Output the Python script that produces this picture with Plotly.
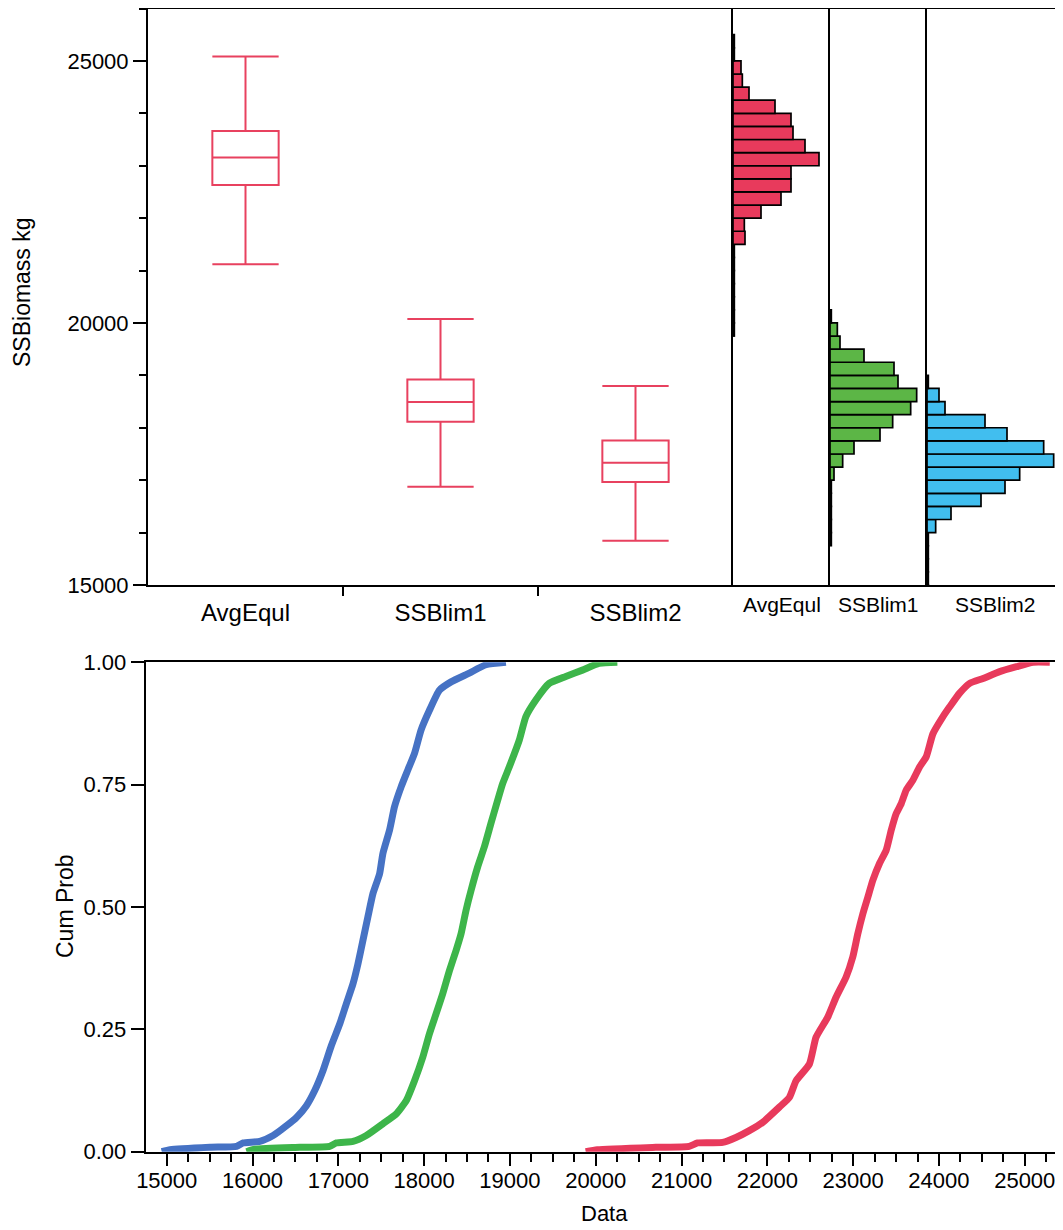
import plotly.graph_objects as go

W, H = 1063, 1230
OFF = 8  # page body margin in the browser
FONT = "Liberation Sans, Arial, sans-serif"

# ---------------- data ----------------
categories = ["AvgEqul", "SSBlim1", "SSBlim2"]
box_q1 = [22630, 18113, 16963]
box_median = [23158, 18494, 17331]
box_q3 = [23664, 18921, 17757]
box_low = [21121, 16874, 15845]
box_high = [25083, 20076, 18799]

bin_width = 250
avg_bins = [19750, 20000, 20250, 20500, 20750, 21000, 21250, 21500, 21750, 22000, 22250, 22500,
            22750, 23000, 23250, 23500, 23750, 24000, 24250, 24500, 24750, 25000, 25250]
avg_counts = [2, 2, 2, 2, 2, 2, 2, 18, 17, 42, 72, 87, 87, 129, 108, 90, 87, 63, 24, 14, 12, 2, 2]

lim1_bins = [15750, 16000, 16250, 16500, 16750, 17000, 17250, 17500, 17750, 18000, 18250, 18500,
             18750, 19000, 19250, 19500, 19750, 20000]
lim1_counts = [2, 2, 2, 2, 2, 6, 19, 36, 75, 94, 121, 130, 102, 96, 51, 15, 11, 2]

lim2_bins = [14750, 15000, 15250, 15500, 15750, 16000, 16250, 16500, 16750, 17000, 17250, 17500,
             17750, 18000, 18250, 18500, 18750]
lim2_counts = [2, 2, 2, 2, 2, 13, 36, 81, 117, 139, 190, 175, 120, 87, 27, 18, 2]

# cumulative probability curves
red_x = [19883, 20019, 20700, 21089, 21187, 21479, 21634, 21790, 21946, 22140, 22257, 22335, 22490,
         22568, 22704, 22802, 22918, 22996, 23054, 23113, 23171, 23230, 23307, 23385, 23444, 23502,
         23560, 23619, 23696, 23774, 23852, 23930, 24047, 24125, 24241, 24358, 24514, 24708, 24903,
         25097, 25292]
red_p = [0.0, 0.004, 0.009, 0.011, 0.018, 0.019, 0.029, 0.043, 0.06, 0.091, 0.111, 0.145, 0.179,
         0.234, 0.275, 0.316, 0.357, 0.398, 0.445, 0.486, 0.52, 0.555, 0.589, 0.616, 0.657, 0.691,
         0.711, 0.739, 0.759, 0.786, 0.807, 0.854, 0.889, 0.909, 0.937, 0.957, 0.967, 0.981, 0.991,
         1.0, 1.0]

blue_x = [14942, 15039, 15504, 15814, 15891, 16085, 16240, 16395, 16512, 16628, 16725, 16822, 16919,
          17016, 17093, 17171, 17229, 17287, 17345, 17403, 17481, 17519, 17597, 17655, 17733, 17810,
          17888, 17965, 18062, 18178, 18314, 18527, 18721, 18953]
blue_p = [0.0, 0.004, 0.009, 0.011, 0.018, 0.021, 0.033, 0.053, 0.07, 0.094, 0.125, 0.166, 0.217,
          0.261, 0.302, 0.343, 0.384, 0.432, 0.48, 0.527, 0.568, 0.609, 0.657, 0.705, 0.746, 0.78,
          0.814, 0.862, 0.902, 0.943, 0.96, 0.978, 0.995, 1.0]

green_x = [15930, 16027, 16550, 16899, 16977, 17171, 17326, 17519, 17674, 17791, 17888, 17984, 18062,
           18140, 18217, 18295, 18372, 18430, 18488, 18547, 18624, 18702, 18779, 18857, 18915, 18992,
           19109, 19186, 19302, 19457, 19651, 19845, 20039, 20252]
green_p = [0.0, 0.005, 0.009, 0.011, 0.018, 0.021, 0.033, 0.057, 0.077, 0.104, 0.145, 0.193, 0.241,
           0.282, 0.323, 0.37, 0.411, 0.445, 0.493, 0.534, 0.582, 0.623, 0.671, 0.718, 0.752, 0.786,
           0.841, 0.889, 0.923, 0.957, 0.971, 0.984, 0.998, 1.0]

# ---------------- helpers (target-pixel -> paper) ----------------
def px(x):
    return (x - OFF) / W

def py(y):
    return 1 - (y - OFF) / H

BOX_COLOR = "#E8415F"
RED = "#E83A5C"
GREEN = "#5CB646"
CYAN = "#41BEEF"
CDF_BLUE = "#4672C4"
CDF_GREEN = "#3DB54A"

fig = go.Figure()

# box plot
fig.add_trace(go.Box(
    x=list(range(len(categories))), q1=box_q1, median=box_median, q3=box_q3,
    lowerfence=box_low, upperfence=box_high, boxpoints=False, width=0.34,
    whiskerwidth=1, line=dict(color=BOX_COLOR, width=2), fillcolor="rgba(0,0,0,0)",
    xaxis="x", yaxis="y", showlegend=False, hoverinfo="skip"))

# histograms
for bins, counts, color, xa, ya in [
        (avg_bins, avg_counts, RED, "x2", "y2"),
        (lim1_bins, lim1_counts, GREEN, "x3", "y3"),
        (lim2_bins, lim2_counts, CYAN, "x4", "y4")]:
    fig.add_trace(go.Bar(
        y=bins, x=counts, orientation="h", width=bin_width, offset=0,
        marker=dict(color=color, line=dict(color="black", width=1.7)),
        xaxis=xa, yaxis=ya, showlegend=False, hoverinfo="skip"))

# CDF curves
for xs, ps, color in [(blue_x, blue_p, CDF_BLUE), (green_x, green_p, CDF_GREEN), (red_x, red_p, RED)]:
    fig.add_trace(go.Scatter(
        x=xs, y=ps, mode="lines", line=dict(color=color, width=7, shape="spline", smoothing=0.5),
        cliponaxis=False, xaxis="x5", yaxis="y5", showlegend=False, hoverinfo="skip"))

tickfont = dict(family=FONT, size=22, color="black")
top_y = [py(585), py(8.5)]
common = dict(automargin=False, showgrid=False, zeroline=False)
lab = dict(family=FONT, size=21, color="black")

fig.update_layout(
    template="none",
    width=W, height=H, autosize=False,
    margin=dict(l=0, r=0, t=0, b=0, pad=0),
    paper_bgcolor="white", plot_bgcolor="white",
    font=dict(family=FONT, size=21, color="black"),
    # box plot axes
    xaxis=dict(domain=[px(148), px(733)], range=[-0.5, 2.5], anchor="y",
               tickvals=[0, 1, 2], ticktext=categories, ticks="outside", ticklen=5,
               tickcolor="rgba(0,0,0,0)", tickfont=dict(family=FONT, size=24, color="black"),
               minor=dict(tickvals=[0.5, 1.5], ticks="outside", ticklen=9, tickwidth=2,
                          tickcolor="black"),
               showline=True, linecolor="black", linewidth=2, mirror=True, **common),
    yaxis=dict(domain=top_y, range=[15000, 26000], anchor="x",
               tickvals=[15000, 20000, 25000], tickformat="d", ticks="outside", ticklen=13,
               tickwidth=2, tickcolor="black", tickfont=tickfont,
               minor=dict(dtick=1000, tick0=15000, ticks="outside", ticklen=7, tickwidth=2,
                          tickcolor="black"),
               showline=True, linecolor="black", linewidth=2, **common),
    # histogram axes
    xaxis2=dict(domain=[px(733), px(830)], range=[0, 145.5], anchor="y2", showticklabels=False,
                ticks="", showline=True, linecolor="black", linewidth=2, mirror=True, **common),
    yaxis2=dict(domain=top_y, matches="y", anchor="x2", showticklabels=False, ticks="",
                showline=True, linecolor="black", linewidth=2, **common),
    xaxis3=dict(domain=[px(830), px(927)], range=[0, 145.5], anchor="y3", showticklabels=False,
                ticks="", showline=True, linecolor="black", linewidth=2, mirror=True, **common),
    yaxis3=dict(domain=top_y, matches="y", anchor="x3", showticklabels=False, ticks="",
                showline=True, linecolor="black", linewidth=2, **common),
    xaxis4=dict(domain=[px(927), 1.0], range=[0, 216], anchor="y4", showticklabels=False,
                ticks="", showline=True, linecolor="black", linewidth=2, mirror=True, **common),
    yaxis4=dict(domain=top_y, matches="y", anchor="x4", showticklabels=False, ticks="",
                showline=True, linecolor="black", linewidth=2, **common),
    # CDF axes
    xaxis5=dict(domain=[px(145.7), 1.0], range=[14755, 25539], anchor="y5",
                tick0=15000, dtick=1000, tickformat="d", ticks="outside", ticklen=12,
                tickwidth=2, tickcolor="black", tickfont=tickfont, ticklabelstandoff=-4,
                minor=dict(dtick=250, tick0=15000, ticks="outside", ticklen=8, tickwidth=2,
                           tickcolor="black"),
                showline=True, linecolor="black", linewidth=2, mirror=True, **common),
    yaxis5=dict(domain=[py(1151.7), py(662.3)], range=[0, 1], anchor="x5",
                tickvals=[0, 0.25, 0.5, 0.75, 1.0], tickformat=".2f", ticks="outside",
                ticklen=13, tickwidth=2, tickcolor="black", tickfont=tickfont,
                showline=True, linecolor="black", linewidth=2, **common),
    annotations=[
        dict(text="SSBiomass kg", x=px(22), y=py(292), xref="paper", yref="paper",
             textangle=-90, showarrow=False, font=dict(family=FONT, size=23, color="black"),
             xanchor="center", yanchor="middle"),
        dict(text="Cum Prob", x=px(65), y=py(906), xref="paper", yref="paper",
             textangle=-90, showarrow=False, font=dict(family=FONT, size=23, color="black"),
             xanchor="center", yanchor="middle"),
        dict(text="Data", x=px(604), y=py(1213), xref="paper", yref="paper",
             showarrow=False, font=dict(family=FONT, size=22, color="black"),
             xanchor="center", yanchor="middle"),
        dict(text="AvgEqul", x=0.5, y=py(604), xref="x2 domain", yref="paper",
             showarrow=False, font=lab, xanchor="center", yanchor="middle"),
        dict(text="SSBlim1", x=0.5, y=py(604), xref="x3 domain", yref="paper",
             showarrow=False, font=lab, xanchor="center", yanchor="middle"),
        dict(text="SSBlim2", x=px(995), y=py(604), xref="paper", yref="paper",
             showarrow=False, font=lab, xanchor="center", yanchor="middle"),
    ],
)

fig.write_html("out.html")
